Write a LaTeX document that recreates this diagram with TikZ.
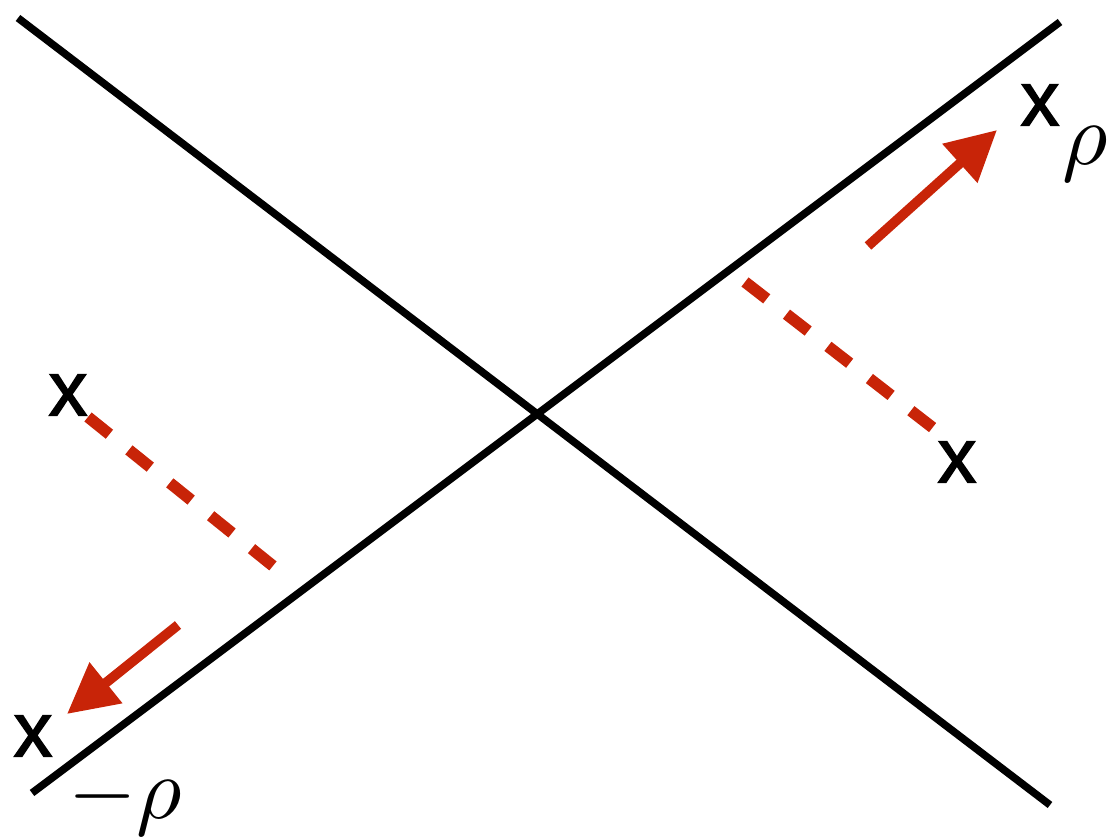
\documentclass[tikz,border=0pt]{standalone}
\usepackage{fontspec}
\setmainfont{Liberation Sans}
\newfontfamily\xfont[FakeBold=2]{Liberation Sans}
\usetikzlibrary{arrows.meta}
\definecolor{arrred}{RGB}{200,36,8}
\tikzset{
  axisline/.style={line width=4.3pt, black},
  movearrow/.style={line width=5.6pt, arrred, -{Triangle[length=1.0cm,width=1.0cm]}},
  dashline/.style={line width=6.6pt, arrred, dash pattern=on 0.55cm off 0.5cm},
  xlabel/.style={inner sep=0pt, font=\xfont\fontsize{44}{44}\selectfont},
  rholabel/.style={inner sep=0pt, scale=5}
}
\begin{document}
\begin{tikzpicture}[x=0.02cm,y=-0.02cm]
\useasboundingbox (0,0) rectangle (1110,837);
% crossing lines
\coordinate (a1) at (18,18);
\coordinate (a2) at (1050,805);
\coordinate (b1) at (32,793);
\coordinate (b2) at (1060,22);
\draw[axisline] (a1) -- (a2);
\draw[axisline] (b1) -- (b2);
% labels
\node[xlabel] (xtr) at (1040,105) {x};
\node[rholabel] (rtr) at (1085,154) {$\rho$};
\node[xlabel] (xbl) at (33,736) {x};
\node[rholabel] (rbl) at (125,801) {$-\rho$};
\node[xlabel] (xl) at (68,395) {x};
\node[xlabel] (xr) at (957,462) {x};
% arrows
\coordinate (ta) at (868,246);
\coordinate (th) at (997,130);
\coordinate (ba) at (178,625);
\coordinate (bh) at (67,714);
\draw[movearrow] (ta) -- (th);
\draw[movearrow] (ba) -- (bh);
% dashed lines
\coordinate (dl1) at (88,417);
\coordinate (dl2) at (278,570);
\coordinate (dr1) at (745,282);
\coordinate (dr2) at (937,431);
\draw[dashline] (dl1) -- (dl2);
\draw[dashline] (dr1) -- (dr2);
\end{tikzpicture}
\end{document}
